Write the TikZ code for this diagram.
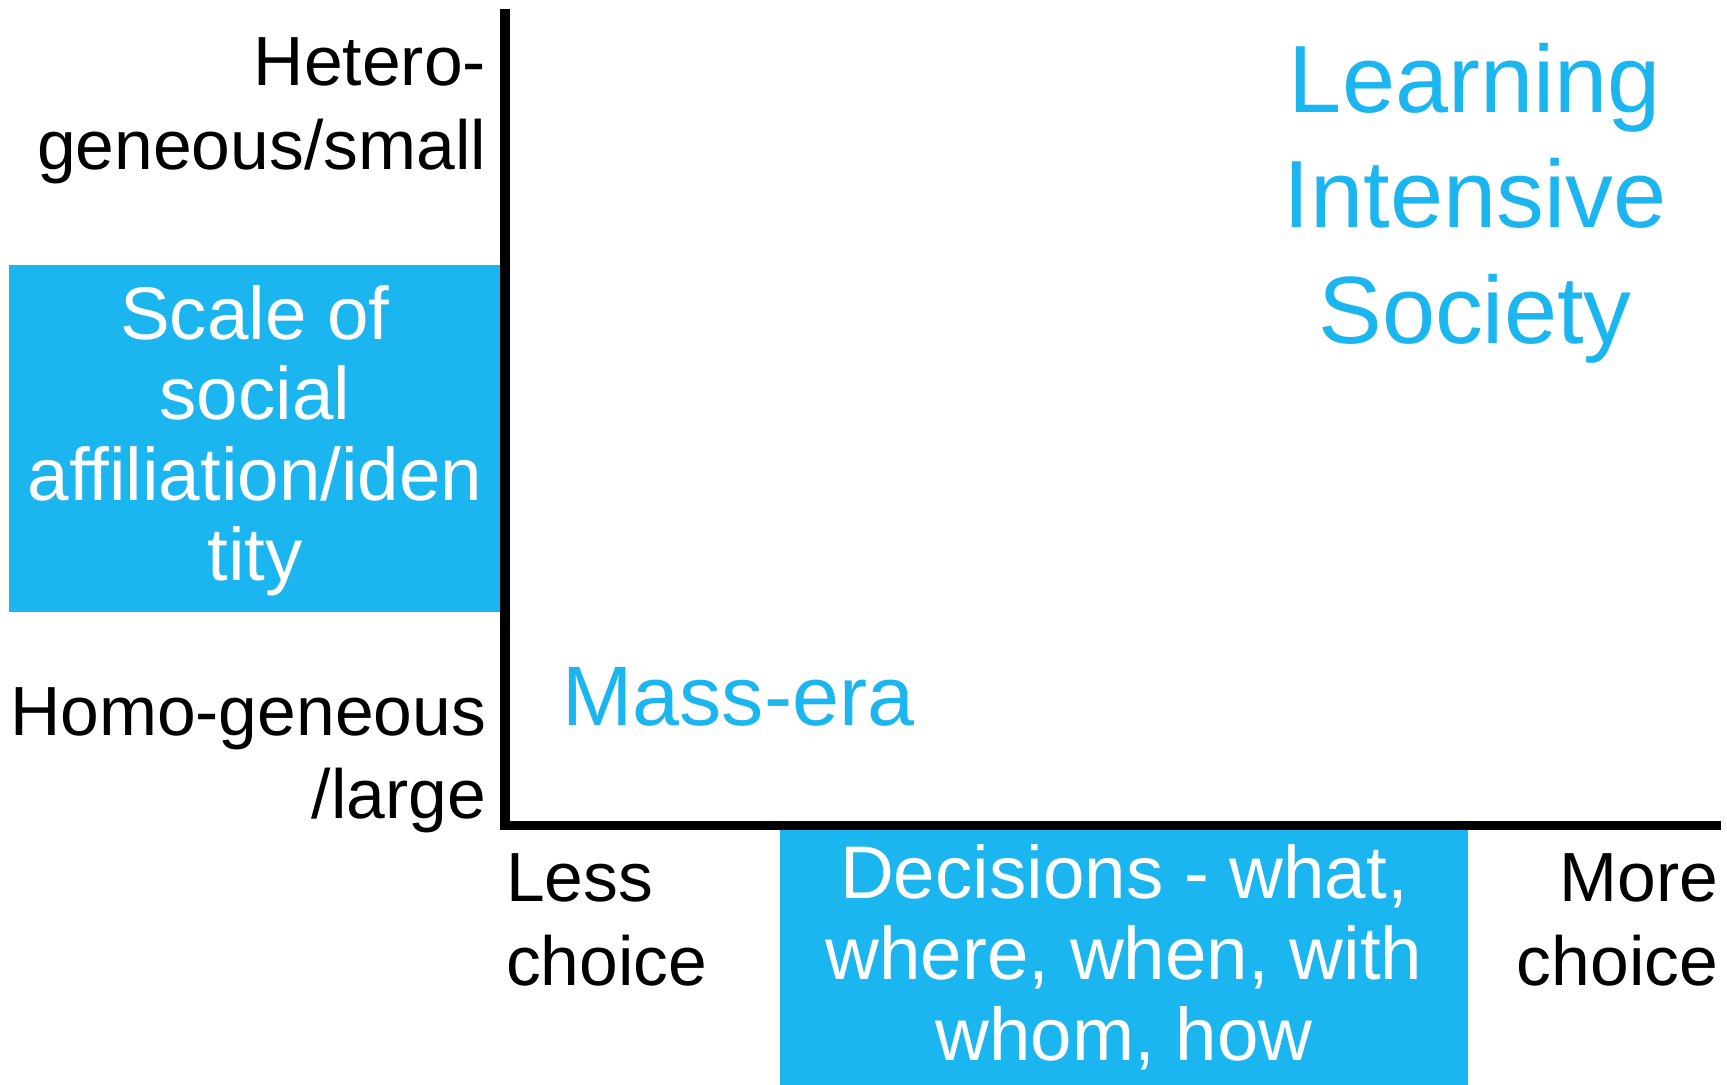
\documentclass[tikz,border=0pt]{standalone}
\usepackage{fontspec}
\setmainfont{Liberation Sans}
\definecolor{skyblue}{RGB}{27,181,240}
\begin{document}
\begin{tikzpicture}[x=0.5pt,y=-0.5pt,
  lbl/.style={inner sep=0pt,outer sep=0pt,text=black,font=\fontsize{34.8}{42}\selectfont},
  wlbl/.style={inner sep=0pt,outer sep=0pt,text=white,font=\fontsize{37.3}{40.25}\selectfont,align=center},
  bluebox/.style={fill=skyblue,draw=none},
  axis/.style={draw=black,line width=4.7pt,line cap=butt,line join=miter}]
\useasboundingbox (0,0) rectangle (1727,1085);
% blue boxes
\path[bluebox] (9,265) rectangle (500,612);
\path[bluebox] (780,830) rectangle (1468,1085);
% axes
\coordinate (ytop) at (505,9);
\coordinate (origin) at (505,825.5);
\coordinate (xend) at (1721,825.5);
\draw[axis] (ytop) -- (origin) -- (xend);
% y labels (anchors at last baseline)
\node[lbl,align=right,anchor=base east] (hetero) at (486,169.8) {Hetero-\\geneous/small};
\node[lbl,align=right,anchor=base east,font=\fontsize{34.8}{41.7}\selectfont] (homo) at (486,818.4) {Homo-geneous\\/large};
\node[wlbl,anchor=base] (scale) at (255,580.5) {Scale of\\social\\affiliation/iden\\tity};
% x labels
\node[lbl,align=left,anchor=base west,font=\fontsize{34.8}{41.7}\selectfont] (less) at (506,985.1) {Less\\choice};
\node[lbl,align=right,anchor=base east,font=\fontsize{34.8}{41.7}\selectfont] (more) at (1718,985.1) {More\\choice};
\node[wlbl,anchor=base,font=\fontsize{37.3}{40.5}\selectfont] (decisions) at (1124,1060.3) {Decisions - what,\\where, when, with\\whom, how};
% quadrant labels
\node[inner sep=0pt,text=skyblue,align=center,anchor=base,font=\fontsize{47.8}{57.75}\selectfont] (lis) at (1475,343.3) {Learning\\Intensive\\Society};
\node[inner sep=0pt,text=skyblue,anchor=base west,font=\fontsize{42.2}{50}\selectfont] (mass) at (562,725) {Mass-era};
\end{tikzpicture}
\end{document}
